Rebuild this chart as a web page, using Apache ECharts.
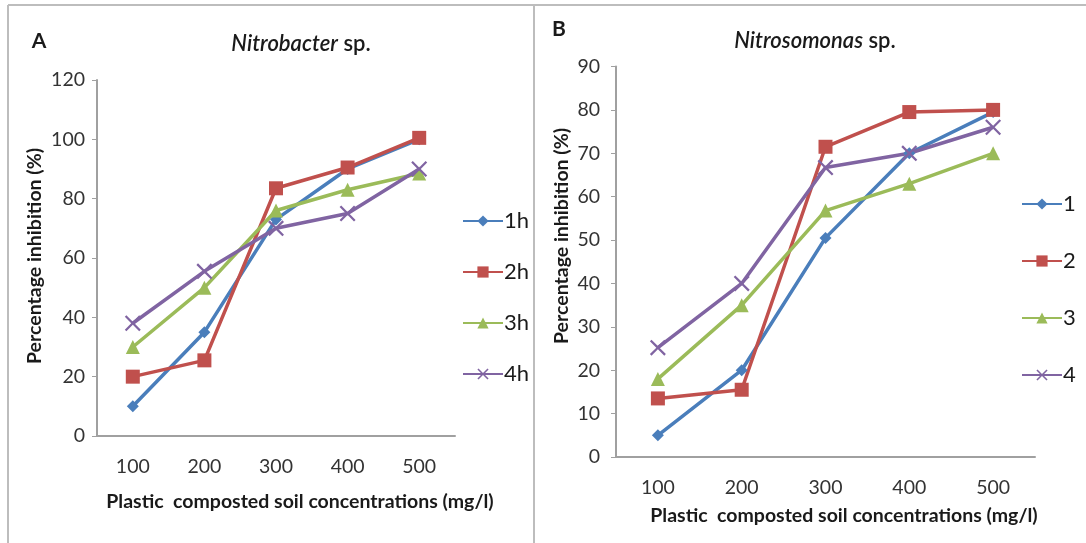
<!DOCTYPE html>
<html>
<head>
<meta charset="utf-8">
<script src="https://cdn.jsdelivr.net/npm/echarts@6/dist/echarts.min.js"></script>
<style>
  html, body { margin: 0; padding: 0; background: #fff; }
  #chart { width: 1086px; height: 543px; }
</style>
</head>
<body>
<div id="chart"></div>
<script>
// concentrations (mg/l)
var categories = ['100', '200', '300', '400', '500'];

// panel A - Nitrobacter sp.
var namesA = ['1h', '2h', '3h', '4h'];
var a1 = [10, 35, 73, 90, 100];
var a2 = [20, 25.5, 83.5, 90.5, 100.5];
var a3 = [30, 50, 76, 83, 88.5];
var a4 = [38, 55.5, 70, 75, 90];

// panel B - Nitrosomonas sp.
var namesB = ['1', '2', '3', '4'];
var b1 = [5, 20, 50.5, 70, 79.5];
var b2 = [13.5, 15.5, 71.5, 79.5, 80];
var b3 = [18, 35, 56.8, 63, 70];
var b4 = [25.2, 40, 66.7, 70, 76];

var colors = ['#4a7ebb', '#c0504d', '#9bbb59', '#8064a2'];
var crossPath = 'path://M0,1L1,0L5,4L9,0L10,1L6,5L10,9L9,10L5,6L1,10L0,9L4,5Z';
var symbols = ['diamond', 'rect', 'triangle', crossPath];
var symbolSizes = [12, 14, 14, 16];
var font = 'Lato, "Open Sans", sans-serif';

var chart = echarts.init(document.getElementById('chart'));

function makeSeries(names, data, idx) {
  return names.map(function (n, i) {
    return {
      name: n,
      type: 'line',
      xAxisIndex: idx,
      yAxisIndex: idx,
      data: data[i],
      symbol: symbols[i],
      symbolSize: symbolSizes[i],
      lineStyle: { width: 3.5, color: colors[i] },
      itemStyle: { color: colors[i] },
      emphasis: { disabled: true },
      animation: false
    };
  });
}

function xAxisCfg(idx) {
  return {
    type: 'category',
    gridIndex: idx,
    data: categories,
    boundaryGap: true,
    axisLine: { lineStyle: { color: '#a0a0a0', width: 2 } },
    axisTick: { show: false },
    axisLabel: { margin: 21, fontSize: 19.5, color: '#333', fontFamily: font }
  };
}

function yAxisCfg(idx, max, interval, margin) {
  return {
    type: 'value',
    gridIndex: idx,
    min: 0,
    max: max,
    interval: interval,
    splitLine: { show: false },
    axisLine: { show: true, lineStyle: { color: '#a0a0a0', width: 2 } },
    axisTick: { show: true, length: 5, lineStyle: { color: '#a0a0a0' } },
    axisLabel: { margin: margin, fontSize: 19.5, color: '#333', fontFamily: font }
  };
}

function txt(x, y, text, size, weight, rot) {
  return {
    type: 'text',
    x: x, y: y,
    rotation: rot || 0,
    style: {
      text: text,
      fontSize: size,
      fontWeight: weight,
      fontFamily: font,
      fill: '#1a1a1a',
      textAlign: 'center',
      textVerticalAlign: 'middle'
    }
  };
}

function titleTxt(x, y, italicPart) {
  return {
    type: 'text',
    x: x, y: y,
    style: {
      text: '{i|' + italicPart + '}{n| sp.}',
      textAlign: 'center',
      textVerticalAlign: 'middle',
      rich: {
        i: { fontSize: 22, fontStyle: 'italic', fontWeight: 600, fontFamily: font, fill: '#1a1a1a' },
        n: { fontSize: 22, fontWeight: 600, fontFamily: font, fill: '#1a1a1a' }
      }
    }
  };
}

var legendText = { fontSize: 22, color: '#1a1a1a', fontFamily: font, padding: [0, 0, 0, -4] };

var option = {
  backgroundColor: '#fff',
  animation: false,
  grid: [
    { left: 97, top: 80, width: 358, height: 356 },
    { left: 616, top: 66.5, width: 419, height: 390.5 }
  ],
  xAxis: [xAxisCfg(0), xAxisCfg(1)],
  yAxis: [yAxisCfg(0, 120, 20, 12), yAxisCfg(1, 90, 10, 16)],
  legend: [
    {
      data: namesA, orient: 'vertical', left: 457, top: 205,
      itemWidth: 40, itemHeight: 14, itemGap: 29,
      textStyle: legendText
    },
    {
      data: namesB, orient: 'vertical', left: 1016, top: 188,
      itemWidth: 40, itemHeight: 14, itemGap: 35,
      textStyle: legendText
    }
  ],
  series: makeSeries(namesA, [a1, a2, a3, a4], 0).concat(makeSeries(namesB, [b1, b2, b3, b4], 1)),
  graphic: [
    // panel frames
    { type: 'line', shape: { x1: 8, y1: 5, x2: 1086, y2: 5 }, style: { stroke: '#bdbdbd', lineWidth: 2 } },
    { type: 'line', shape: { x1: 8, y1: 5, x2: 8, y2: 543 }, style: { stroke: '#bdbdbd', lineWidth: 2 } },
    { type: 'line', shape: { x1: 534, y1: 5, x2: 534, y2: 543 }, style: { stroke: '#bdbdbd', lineWidth: 2 } },
    txt(39, 41, 'A', 21, 'bold'),
    txt(559, 29, 'B', 21, 'bold'),
    titleTxt(301, 44, 'Nitrobacter'),
    titleTxt(815, 41, 'Nitrosomonas'),
    txt(300, 502, 'Plastic  composted soil concentrations (mg/l)', 19.5, 'bold'),
    txt(844, 516, 'Plastic  composted soil concentrations (mg/l)', 19.5, 'bold'),
    txt(35, 256, 'Percentage inhibition (%)', 19.5, 'bold', Math.PI / 2),
    txt(562, 236, 'Percentage inhibition (%)', 19.5, 'bold', Math.PI / 2)
  ]
};

chart.setOption(option);
</script>
</body>
</html>
